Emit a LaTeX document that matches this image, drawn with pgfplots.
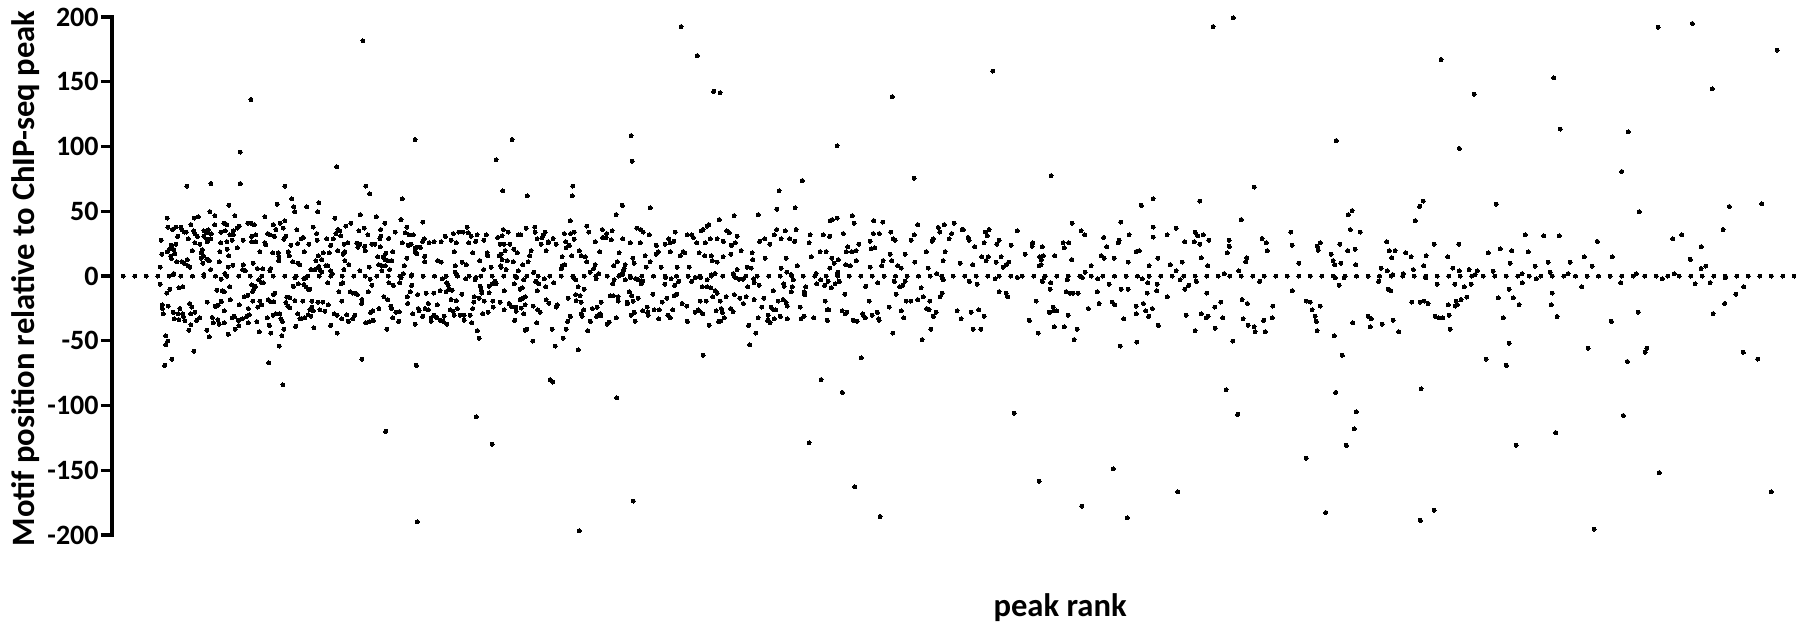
\documentclass[border=0pt]{standalone}
\usepackage{fontspec}
\setmainfont{Carlito}
\usepackage{pgfplots}
\pgfplotsset{compat=1.18}

\begin{document}
\begin{tikzpicture}
\begin{axis}[
    scale only axis,
    width=842pt, height=259pt,
    xmin=112, xmax=1796,
    ymin=-200, ymax=200,
    clip=false,
    axis x line=none,
    axis y line=left,
    axis line style={-, line width=1.7pt, line cap=rect},
    ytick={-200,-150,...,200},
    tick align=outside,
    major tick length=5.5pt,
    tick style={line width=1.7pt, black},
    /pgf/number format/assume math mode=true,
    yticklabel style={font=\fontsize{14}{16}\selectfont\bfseries, inner sep=1pt},
    every axis y label/.style={at={(axis description cs:-0.0463,0.495)}, rotate=90, anchor=base},
    label style={font=\fontsize{16.3}{18}\selectfont\bfseries},
    ylabel={Motif position relative to ChIP-seq peak},
    dot/.style={only marks, mark=*, mark size=1pt, black, mark options={draw=black, fill=black, line width=0pt}},
]
% zero line
\addplot[dot] coordinates {
(123.3,0)(134.8,0)(146.4,0)(157.9,0)(169.4,0)(180.9,0)(192.5,0)(204.0,0)(215.5,0)(227.0,0)(238.6,0)(250.1,0)(261.6,0)(273.1,0)(284.7,0)(296.2,0)(307.7,0)(319.2,0)(330.8,0)(342.3,0)(353.8,0)(365.3,0)(376.9,0)(388.4,0)(399.9,0)(411.4,0)(423.0,0)(434.5,0)(446.0,0)(457.5,0)(469.1,0)(480.6,0)(492.1,0)(503.6,0)(515.2,0)(526.7,0)(538.2,0)(549.7,0)(561.3,0)(572.8,0)(584.3,0)(595.8,0)(607.4,0)(618.9,0)(630.4,0)(641.9,0)(653.5,0)(665.0,0)(676.5,0)(688.0,0)(699.6,0)(711.1,0)(722.6,0)(734.1,0)(745.7,0)(757.2,0)(768.7,0)(780.2,0)(791.8,0)(803.3,0)(814.8,0)(826.3,0)(837.9,0)(849.4,0)(860.9,0)(872.4,0)(884.0,0)(895.5,0)(907.0,0)(918.5,0)(930.1,0)(941.6,0)(953.1,0)(964.6,0)(976.2,0)(987.7,0)(999.2,0)(1010.7,0)(1022.3,0)(1033.8,0)(1045.3,0)(1056.8,0)(1068.4,0)(1079.9,0)(1091.4,0)(1102.9,0)(1114.5,0)(1126.0,0)(1137.5,0)(1149.0,0)(1160.6,0)(1172.1,0)(1183.6,0)(1195.1,0)(1206.7,0)(1218.2,0)(1229.7,0)(1241.2,0)(1252.8,0)(1264.3,0)(1275.8,0)(1287.3,0)(1298.9,0)(1310.4,0)(1321.9,0)(1333.4,0)(1345.0,0)(1356.5,0)(1368.0,0)(1379.5,0)(1391.1,0)(1402.6,0)(1414.1,0)(1425.6,0)(1437.2,0)(1448.7,0)(1460.2,0)(1471.7,0)(1483.3,0)(1494.8,0)(1506.3,0)(1517.8,0)(1529.4,0)(1540.9,0)(1552.4,0)(1563.9,0)(1575.5,0)(1587.0,0)(1598.5,0)(1610.0,0)(1621.6,0)(1633.1,0)(1644.6,0)(1656.1,0)(1667.7,0)(1679.2,0)(1690.7,0)(1702.2,0)(1713.8,0)(1725.3,0)(1736.8,0)(1748.3,0)(1759.9,0)(1771.4,0)(1782.9,0)(1794.4,0)
};
% rank range up to 300
\addplot[dot] coordinates {
(251,136.3)(240.3,95.7)(187,69.5)(211,71.4)(240.3,71.4)(285,69.5)(291.7,59.6)(293.7,53.5)(294.7,49.7)(277.3,55.4)(229,54.6)(210,49.7)(215,46.6)(235,46.6)(265,45.8)(167.3,44.7)(194.3,44.7)(198.3,45.8)(285,42.5)(280.3,40.8)(273.3,39.7)(247.7,40.8)(254.3,39.7)(251,40.8)(239.3,38.6)(237.3,37)(224,40.8)(226.7,39.7)(214.7,39.4)(191,39.7)(168,37.8)(175.7,37.8)(181,37.8)(182,35.9)(172.3,35.9)(184.3,33.9)(193.7,34.8)(195,32.8)(186.3,33.9)(204,34.8)(208.3,35.6)(206.7,33.4)(211.3,32.6)(221,33.9)(225.3,34.8)(233.3,34.8)(230,31.7)(233.3,31.7)(276,35.9)(283.3,37)(297,35.6)(267.7,32.8)(270,31.7)(274.3,30.6)(286,30.6)(284,28.4)(177.7,30.6)(188.3,28.7)(197.3,30.6)(204,30.6)(206.7,28.4)(210.7,28.7)(161.3,27.6)(195,25.7)(200,24.6)(207.3,26.5)(220.7,25.7)(227,26.5)(232.3,27.6)(243.3,27.6)(251.7,26.5)(256,26.5)(255.7,31.7)(251.7,30.6)(265,25.7)(265.7,24.3)(291,23.7)(297.7,25.1)(171.3,23.7)(176,24.6)(170,21)(174,20.4)(192.3,19.6)(202.3,20.4)(201.3,17.9)(220,18.8)(227.3,20.7)(237.3,21.8)(260,18.8)(272.7,17.9)(278.3,17.9)(288.3,18.8)(289.3,15.7)(161.7,16.8)(167.3,18.8)(170.7,15.4)(171.3,13.5)(175,17.4)(203.3,15.7)(201.3,13.8)(206.7,13)(209.3,11.9)(228.7,15.7)(279,14.9)(278.7,11.9)(292.7,11)(297.7,9.9)(299.7,8.8)(176.7,11)(182,11)(187.3,12.7)(184.3,9.7)(188,8)(202.7,9.9)(219.3,11)(253.3,9.9)(270.7,5.8)(243.3,8.6)(232.7,8.3)(228.3,6.9)(190,6.9)(160.3,6.9)(210.7,5)(221.3,-2.5)(242.7,5)(245.3,3.9)(257.3,5.8)(262.7,5.5)(270,3.9)(225,1.9)(173.7,1.9)(204,1.1)(172.7,1)
(160.3,-6.3)(170,-10.2)(166.7,-13.2)(179,-9.1)(183,-8.3)(216.7,-11)(229.7,-8.3)(251.7,-6.9)(255.3,-8)(258.7,-3)(261.7,-5.2)(263.3,-5.2)(253.7,-10.2)(252.7,-11.9)(247.7,-14.9)(244.3,-16)(273.3,-14.3)(275,-13.2)(268.3,-18.2)(270.7,-19.9)(274,-19.9)(260,-19.3)(252.7,-19.3)(261.7,-22.3)(257.7,-24)(248.3,-25.1)(293.3,-8)(295,-1.1)(298.3,-6.1)(286.7,-16.3)(290,-16.8)(286,-20.4)(295,-19)(287.7,-23.2)(290,-24.6)(222.3,-11.3)(224.3,-12.1)(230.3,-18.2)(221.3,-19.6)(218.3,-22.6)(215.3,-23.4)(207.3,-20.1)(239.3,-22.3)(224.3,-27)(162.3,-22.3)(162.3,-25.1)(163.3,-29.2)(168.3,-23.2)(173.3,-28.1)(180,-25.1)(189.7,-21.2)(191.7,-24)(174.3,-33.1)(178.3,-29.2)(183,-29.2)(179,-33.7)(183.3,-31.2)(185,-34.5)(190.7,-29.2)(195,-27.9)(196.7,-34.2)(200,-32.3)(191,-37.8)(188.7,-41.9)(212.3,-32)(213.3,-36.1)(218,-33.7)(219.3,-37.2)(224.3,-36.1)(232.3,-32.3)(234.3,-31.2)(238.3,-34.2)(242.3,-33.1)(246.7,-31.2)(249.3,-30)(248.3,-36.1)(257,-35.3)(267.3,-32.3)(273.3,-30.3)(276,-29.2)(280,-29.2)(281,-33.1)(282.3,-35)(297.7,-29.2)(300,-33)(207,-41.9)(209.3,-46.9)(228.3,-45)(235.3,-41.1)(239,-38.3)(259.3,-43)(269.3,-38.1)(270.7,-44.1)(284,-41.1)(282,-46.1)(295.7,-38.9)(279.3,-54.1)(165.7,-46.1)(167.7,-50.2)(165.7,-53)(194,-58.2)(172,-64.3)(164.7,-69)(268.7,-67)(283,-84.1)
};
% 300 to 600
\addplot[dot] coordinates {
(363,181.5)(415,105.4)(512,105.4)(336.7,84.4)(496,89.7)(365.7,69.5)(369.7,63.4)(502.7,65.7)(527.3,61.8)(572.7,69.5)(572.3,61.8)(402.3,59.6)(306.7,53.5)(319,56.6)(317.7,49.7)(360.3,47.4)(376.3,45.8)(335,44.7)(401,43.6)(422.7,41.7)(570.3,42.8)(351,40.8)(384.7,40.8)(345.7,38.6)(313.3,37.8)(338,35.9)(340,34.8)(336,32.8)(340.7,30.9)(359,34.8)(364.3,37)(380.7,35.9)(395.3,33.9)(407,37.8)(405.3,33.4)(409,31.7)(413.3,31.7)(467,37.8)(458.7,33.9)(453.3,32.8)(463.3,33.9)(468.3,33.4)(471,30.6)(477,31.7)(486.3,31.7)(497.7,29.8)(502,30.9)(503.3,35.9)(508.3,33.9)(518.3,31.7)(520.7,31.7)(526,37)(534.7,37.8)(535,33.9)(545,33.9)(543.3,31.7)(537,28.7)(542,29.5)(553,29)(548.3,26.5)(556,24.6)(564.3,32.8)(574.3,33.9)(570.7,32.8)(586.7,38.6)(588.7,33.9)(316.7,32.8)(303.3,29.8)(301.3,28.7)(317.3,27.6)(326.7,28.7)(333.3,28.7)(309,24.6)(330.7,23.7)(344.3,24.6)(347.7,25.7)(356.7,25.4)(360,24.6)(364.7,22.9)(358,22.1)(365.3,19.6)(368,31.7)(371.7,24.6)(375,24.6)(380,28.7)(380.7,30.6)(380.3,22.6)(388.7,29)(392.7,18.8)(402.3,25.7)(408.3,23.7)(411,24.6)(415,21.5)(420.3,22.1)(417,22.1)(415,18.8)(416.7,17.1)(424.3,28.7)(422.7,26.8)(429,25.7)(434,26.5)(441,26.5)(445.3,30.6)(451.3,27.6)(456.3,25.7)(468.7,25.7)(475.7,26.8)(483.7,27.6)(500,24.6)(504,24.6)(509.7,24.6)(505,19.6)(513.7,20.7)(517.3,17.9)(531,19.6)(541,24.6)(546,19.6)(548.3,25.7)(565.7,26.5)(569.3,23.7)(566,21.8)(574.3,28.4)(579.3,19.6)(595.3,26.5)(599.7,18.8)
(304.3,18.8)(323.3,17.9)(329.3,17.9)(337.7,19.6)(345,18.8)(343.3,16.8)(318.3,15.7)(321.7,12.7)(316,11.6)(345,11.9)(349,8.8)(377.7,14.9)(386,17.7)(383.3,14.9)(385,12.7)(387.7,11.9)(391.7,11.9)(378.7,8.8)(382,8)(385.3,8)(369.3,6.9)(360,3.9)(382,3.9)(389.7,5)(404.3,8)(406.7,13.8)(424.7,11)(424.7,15.2)(437.7,11.9)(441.3,10.8)(454.3,18.8)(472.7,17.9)(487,17.9)(487.7,15.7)(479.7,11.9)(462,10.8)(466.3,8.8)(455.3,8)(483.7,5)(491,6.9)(501.3,16.8)(499,15.7)(502,12.7)(507.3,11.9)(513.3,11)(500.7,8)(501,6.9)(506,5)(522.7,8.6)(528,11)(529.7,15.7)(518.3,3.9)(533.7,2.8)(562,14.9)(564.7,8.8)(562.3,8)(561.3,5.5)(571.7,15.7)(581,15.7)(585.3,14.9)(586.7,11)(595,8.8)(593.7,5.8)(590,2.8)(598.7,1.9)(311,5)(315,5)(318.7,7.4)(320,5)(321.7,3)(326,8)(327.7,8)(330.7,3.9)(332.3,1.9)(344,5)(306,-1.1)(304,-1.9)(455.3,2.8)
(304,-6.6)(308.3,-10.2)(306,-8.3)(310,-10.2)(327.7,-5.2)(339,-12.1)(341.3,-6.1)(342.7,-5.2)(370.3,-2.5)(372,-7.2)(368.3,-12.1)(350.3,-12.1)(352.7,-13.2)(354.7,-13.2)(357.3,-14.3)(362,-18.2)(361.7,-21.2)(389,-5.2)(393.3,-7.2)(399.7,-5.2)(401,-1.1)(403.3,1.9)(411.7,.8)(411.7,-7.2)(410.3,-12.1)(407.3,-16)(407.7,-21.2)(384,-16)(387.7,-18.2)(312,-19.3)(302.7,-19.3)(318,-20.1)(322.7,-20.1)(328.3,-22.3)(341.7,-19.3)(417.7,-14.3)(426,-13.2)(433.7,-13.2)(440,-11.3)(446,-12.1)(448.7,-10.2)(452.3,-11)(442.3,-2.2)(446.7,-5.2)(448,-7.2)(456,1.9)(465.7,-2.2)(475,-3)(475.7,-1.1)(480.3,-8)(481.3,-11)(481.7,-13.2)(489,-13)(489,-8)(492,-6.1)(495,-4.1)(496,-6.1)(504.3,-11.3)(514.3,-6.1)(516.7,-1.1)(522.3,-9.1)(520.3,-10.2)(523.7,-3)(535.7,-4.1)(538.7,-6.1)(537.3,-11.3)(545.7,-8.3)(553.7,-5.2)(544.3,-2.2)(573.7,-1.1)(575.7,-3)(578,-8.3)(584.3,-10.2)(596,-2.2)(575.7,-14.3)(580,-15.2)(576,-19)(581,-20.1)(568.3,-17.1)(461.7,-14.1)(474.3,-16)(479.3,-17.1)(473.7,-20.1)(451,-18.2)(456.3,-19)(428.3,-21.2)(437.3,-22.3)(484.3,-19.3)(492.7,-19.3)(500,-20.1)(493.3,-24)(509,-21.2)(511.7,-23.7)(520,-18.2)(523.3,-17.1)(525.3,-16)(525,-22.3)(521.3,-24.8)(533.3,-23.2)(537.7,-26.2)(540,-27.9)(546,-18.5)(548.7,-21)(557.3,-22.3)(556.3,-24)(515.7,-24)(504,-26.2)(516,-27.3)(523.7,-29.2)(390.7,-23.2)(391.7,-25.1)(379,-25.1)(373,-27)(370.7,-28.1)(346.7,-30)(355,-30.3)(396,-28.1)(399.3,-27.6)(392.7,-32.3)(412.7,-29.2)(418.3,-25.1)(425,-25.1)(428.3,-26.2)(419,-27)(422.7,-31.2)(434.3,-30.3)(431,-32.3)(431,-35)(436.7,-32)(440,-34.2)(444,-31.2)(443.3,-35)(446.7,-37.2)(450,-26.2)(453,-27.3)(457.3,-25.1)(454.3,-30.3)(460,-30.3)(464,-30.3)(464,-34.2)(470.3,-30.3)(472.7,-25.1)(471.7,-36.1)(482.7,-29)(488,-28.1)(514.7,-34.2)(536.7,-36.1)(570.3,-31.2)(567.7,-35)(581,-29.2)(582,-31.2)(583.7,-26.2)(592.3,-25.1)(597,-24)(596.7,-31.2)(599,-30.3)(590.3,-35)(310,-25.9)(311.7,-24)(313.3,-27)(320,-26.2)(325,-27.3)(308.3,-30)(305,-32.3)(301.7,-32.8)(311,-30.9)(334.3,-29.2)(337.3,-30.3)(341.7,-33.1)(348.3,-35)(352.7,-33.1)(365.7,-36.1)(369.3,-35.3)(373.3,-34.2)(398.7,-35)(415.3,-37.2)(314,-40)(330.7,-38.1)(337.3,-44.1)(386.7,-41.1)(477.3,-42.2)(479,-48)(525.3,-41.9)(526.7,-41.1)(532.7,-50.2)(552.3,-41.1)(555.3,-54.1)(566.3,-41.1)(563.3,-48)(578.3,-57.1)(587.7,-42.2)(362,-64.3)(416.3,-69)(550,-80)(552.7,-81.9)(385.7,-120)(476.3,-108.7)(492.3,-129.9)(417.3,-189.8)(579.3,-196.7)
};
% 600 to 900
\addplot[dot] coordinates {
(681,192.6)(697.3,170.2)(713.7,142.6)(720,141.5)(892.3,138.5)(631,108.4)(837,100.4)(632.3,88.6)(802.3,73.7)(779,65.7)(622.3,54.6)(650.3,52.7)(776.7,51.6)(795,52.7)(616,47.4)(758.3,47.4)(734,46.6)(719.3,43.6)(852.3,46.6)(837.3,44.7)(832.3,43.6)(830.3,42.8)(873.7,42.8)(882.7,41.7)(854,40.8)(708.7,39.7)(707,38.6)(703,35.9)(701,34.8)(636.7,37)(640.7,35.9)(643.3,33.9)(649.3,31.7)(675.3,33.9)(687.3,31.7)(691.7,31.7)(693.3,29.8)(726.7,34.8)(729.3,33.4)(737,30.6)(776.7,35.9)(785.3,34.8)(796,35.9)(774.3,31.7)(810,31.7)(823.3,31.7)(829.7,30.6)(843.3,32.8)(873.3,32.8)(879.3,32.8)(890.7,33.9)(602.3,35.9)(612,34.8)(606.7,32.8)(602.7,29.8)(606,29.8)(611.3,27.9)(622.7,28.7)(630.3,25.7)(640.3,25.7)(656.3,23.7)(665.3,24.6)(668.7,28.7)(670,25.7)(673.7,26.8)(696.7,25.7)(705.3,25.7)(710.3,28.7)(717,28.7)(723.3,26.8)(735.3,25.7)(731.3,23.7)(759.7,26.8)(764.7,28.7)(769.7,24.6)(781,28.7)(789.7,28.7)(794.7,26.8)(809,25.7)(870,26.8)(893.3,28.7)(895,27.6)(847.7,22.6)(846.3,18.8)(851.7,18.8)(856,19.6)(858.7,24.6)(871,21)(874.7,21.8)(820,18.8)(826,18.8)(741,19.6)(699,17.9)(684.7,17.9)(683,18.8)(680.3,15.7)(658.3,18.8)(656.3,16.8)(670.3,18.8)(645,15.7)(619,17.9)(632.7,13.8)(704.7,15.7)(711.3,15.7)(723,14.9)(730.7,16.8)(752,17.9)(752.7,12.7)(765,13.8)(786,13.8)(811.3,14.9)(831.7,13.8)(838.3,12.7)(890.3,16.8)
(712.3,11.9)(717.3,10.8)(617.3,11)(634,9.9)(650,11)(625,8.8)(613.7,8)(646.3,6.9)(661,6.9)(677,6.9)(689.3,6.9)(747,6.9)(751.3,6.1)(737,5)(781,6.1)(797.3,8)(834,9.9)(845.7,8.8)(850.3,8)(856.3,11.9)(829.7,6.1)(870.3,6.9)(881.7,8)(883,11.9)(891.7,11.9)(897.7,8)(624,5.8)(623.3,3.9)(715,1.9)(711,.8)(733.3,1.9)(786.7,3)(791,1.1)(837.7,3)(816,1.9)(837.3,1.1)(620,0.8)(622.7,1.4)
(614,-3)(612.7,-6.1)(630.7,-1.1)(625.3,-3)(635.7,-1.9)(638.3,-3)(642.7,-4.1)(641.3,-6.1)(665.3,-1.1)(664.7,-6.3)(671,-2.2)(674.7,-7.2)(678.7,-4.1)(691.7,-4.1)(695.3,-1.1)(700.7,-1.1)(707,-3)(702.3,-8.3)(707.3,-8.3)(710.7,-9.1)(715,-11.3)(717,-13.2)(712.7,-16)(726,-16)(735.7,-1.4)(739,-2.5)(743,-2.5)(747.7,-8.3)(754,-5.2)(759,-7.2)(753.7,-2.2)(783.7,-6.1)(784,-8)(793.3,-3)(792.3,-8.3)(791.3,-12.1)(773.3,-11.3)(805.7,-8.3)(804.3,-12.1)(804.7,-14.6)(816.7,-6.1)(820.7,-3)(824.7,-7.2)(828,-4.1)(831.3,-9.1)(835,-6.1)(839.3,-4.1)(844.7,-14.1)(865.7,-8)(877.7,-5.2)(894.3,-4.1)(896,-14.1)(899.7,-8.3)
(652.7,-14.1)(676.7,-14.1)(674,-15.2)(629.3,-12.1)(631.7,-15.2)(638.3,-17.1)(610.3,-15.2)(613.3,-15.2)(618,-16)(618.3,-19.3)(627.3,-20.1)(627.3,-21.5)(633,-19.3)(601,-20.1)(666.7,-17.1)(662.3,-20.1)(682,-21.2)(686.7,-23.2)(700.3,-19.3)(706.3,-19.3)(720.3,-19.3)(734.3,-14.3)(739.7,-17.1)(746,-16)(743.3,-21.2)(754,-18.2)(763.7,-17.1)(778,-19.3)(783,-18.2)(786,-20.4)(787.3,-23.2)(761.7,-24)(771,-24)(800.3,-24)(825.3,-19.3)(869.3,-19.3)(889.3,-24)(647.3,-24)(654,-26.2)(659.3,-26.2)(672.7,-26.2)(642.7,-27)(647.7,-28.1)(648.3,-30.3)(634.3,-28.1)(631.3,-30.3)(600,-29.2)(600.7,-30.6)(667.7,-30.3)(670.3,-32.3)(658.7,-33.1)(635,-35)(616.3,-32.3)(609.3,-35.6)(607.3,-37.2)(695,-28.1)(698,-26.2)(699.3,-27)(702.7,-29.2)(716,-27)(721.3,-25.1)(722.3,-28.1)(730.7,-25.1)(733,-27.6)(724.3,-32.3)(718.7,-35)(720.7,-34.8)(687.3,-35)(709,-38.1)(748.7,-38.1)(758,-32.3)(755.7,-44.1)(749.7,-53.2)(768.3,-30.3)(767.7,-34.2)(770,-36.1)(773.7,-26.2)(775.7,-26.2)(774.3,-33.1)(780.3,-31.2)(787.3,-33.1)(801,-33.1)(804,-31.2)(813.7,-32.3)(827.3,-26.2)(828.7,-26.2)(827.3,-34.2)(842,-27)(846.7,-28.1)(845.3,-29.2)(853.3,-34.2)(857,-35)(862.7,-29.2)(863.3,-30.3)(865.3,-32.3)(872,-30.3)(877.3,-28.1)(878.7,-33.1)(879,-34.2)(892.7,-44.1)(703,-61.2)(861.3,-63.2)(821,-80)(842.3,-89.9)(616.7,-94.1)(809,-128.8)(854.7,-162.8)(633.3,-173.8)(880,-185.7)
};
% 900 to 1200
\addplot[dot] coordinates {
(992.7,158.3)(914,75.6)(1051,77.5)(1199.7,57.9)(1153,59.6)(1141.3,54.6)(1120.7,41.7)(1072,40.8)(917.7,39.7)(944.3,39.7)(954.3,40.8)(938.3,37.5)(939.7,33.9)(1153.3,37.8)(1176,37)(1081,34.8)(1084.7,31.7)(1195,33.9)(1197.7,30.9)(962,35.9)(963.3,35.9)(989,35.9)(985.3,33.9)(987,30.9)(1017.3,34.8)(914.3,31.7)(951.7,32.8)(1129,31.7)(1167,31.7)(1153.3,30.1)(1103.7,29.8)(949,28.7)(911.3,27.6)(933.3,28.7)(932,26.8)(968,29.8)(969,27.6)(999,27.6)(984,25.7)(996.7,24.6)(1011,23.7)(1032.7,25.7)(1032,22.9)(1042.3,22.6)(1063,25.7)(1068.7,25.7)(1064.3,21.8)(1106.7,22.6)(1119,27.6)(1118.3,25.7)(1184.7,26.5)(1194.3,26.5)(1199.7,24.6)(974.7,22.6)(926.3,18.8)(945,18.8)(905,16.8)(1025.3,16.8)(1054.7,15.7)(1136,18.8)(1139.3,19.6)(1101,15.7)(1104,13.8)(1114.3,13.8)(1157.7,13.8)(981.7,14.9)(988.3,14.9)(1001,14.9)(1039.7,14.9)(1043.3,15.7)(1041.3,12.7)(1071.7,12.7)(943,11.9)(986,11.9)(996,10.8)(914.7,10.8)(1008.7,10.8)(1006.3,8.8)(1003,6.9)(960.3,9.9)(972.7,8.8)(1041,8.8)(1039.3,8)(1091,8)(1128.3,10.8)(1149,8)(1182.3,10.8)(1170.3,8.8)(1176,3.9)(901.3,6.1)(928.3,6.1)(936.7,1.9)(1085,3)
(943.3,-3)(942,-1.1)(995,-2.2)(969.3,-4.1)(977.3,-6.3)(905,-4.1)(902.7,-7.2)(1017.3,-1.1)(1044,-1.1)(1042.3,-4.1)(1050.7,-5.2)(1067.3,-3)(1082.3,-1.1)(1097.7,-2.2)(1109,-6.3)(1142.3,-2.2)(1147.7,-5.2)(1157.3,-6.3)(1156.7,-11.3)(1180,-3)(1196.3,-4.1)(1188.7,-7.2)(1184.7,-10.2)(921,-9.1)(1050,-10.2)(1121.3,-10.2)(1128,-10.2)(999,-12.1)(1006,-13.2)(1007.7,-16)(1066,-12.1)(1070,-13.2)(1073,-13.2)(1078,-13.2)(1097.3,-12.1)(1147.3,-13.2)(942.3,-13.2)(940,-16)(923.3,-16)(917.7,-18.2)(906.3,-19.3)(910.7,-19.3)(929.7,-19.3)(1036,-19.3)(1167.3,-16)(1099,-21.2)(1112.3,-20.1)(1114.7,-22.3)(1136,-23.2)(1143.3,-21.2)(1152.3,-25.1)(1088.3,-25.1)(926.7,-25.1)(929,-26.2)(1053.3,-24)(901.3,-27)(957,-27)(978.7,-26.2)(971,-28.1)(1049.3,-28.1)(1053.7,-27)(1056.7,-27)(936,-28.1)(1145.7,-27)(1136.3,-29.2)(933.3,-31.2)(984,-31.2)(1068.3,-30.3)(1148.7,-31.2)(1186.3,-30.3)(903.7,-32.3)(961,-33.1)(1029.3,-34.2)(1123.7,-33.1)(1158.3,-38.1)(1054.3,-39.2)(1064.3,-39.2)(930.7,-41.1)(973.3,-41.1)(980.7,-41.1)(1077.3,-41.1)(1195,-42.2)(1038.3,-44.1)(922,-49.1)(1074,-49.1)(1136.7,-51)(1120.3,-54.1)(1014.3,-105.9)(1113.3,-149)(1039,-158.6)(1177.7,-166.6)(1081.7,-177.7)(1127.3,-186.8)
};
% 1200 to 1480
\addplot[dot] coordinates {
(1213,192.6)(1233.3,199.4)(1441,167.2)(1474.3,140.4)(1336.3,104.6)(1459.3,98.5)(1254.3,68.7)(1423.3,57.9)(1419.7,53.8)(1415.3,42.8)(1352,50.5)(1348.3,47.4)(1241.3,43.6)(1350.3,35.9)(1360.3,33.9)(1290.7,33.9)(1203.3,31.7)(1208.7,27.6)(1229,27.6)(1229.3,22.9)(1262,29)(1266.3,25.7)(1267.3,19.6)(1292,23.7)(1317.3,22.9)(1320.3,25.7)(1318.3,19.9)(1339.7,24.6)(1347.7,19.6)(1355,20.7)(1386.7,26.5)(1389.3,19.6)(1395,19.6)(1405.7,17.9)(1411,14.9)(1426,15.7)(1434.3,24.6)(1458.7,24.6)(1447.7,14.9)(1227.3,17.9)(1246.7,14.1)(1245.7,11)(1201.3,14.1)(1207.7,8)(1298.7,9.9)(1331,16.8)(1333,11.9)(1334.7,8.8)(1340.7,9.9)(1355.7,8.8)(1391.7,14.1)(1381,6.1)(1387.3,3.9)(1413.3,5)(1423.7,8)(1452.7,6.1)(1459.3,3.9)(1469,5)(1477.3,3.9)(1224.3,1.9)(1238.7,3.9)(1403.3,1.9)(1392.7,1.1)(1475,1.1)
(1259.7,-4.1)(1335.3,-1.4)(1344,-1.4)(1378.7,-4.1)(1425.7,-1.4)(1339,-7.2)(1437.3,-6.3)(1454.7,-6.3)(1464.3,-8.3)(1471.3,-6.3)(1292.3,-11.3)(1388,-10.2)(1390.7,-11.3)(1206.7,-13.2)(1466.7,-16.3)(1461,-18.2)(1242,-18.2)(1456,-19.3)(1306,-19.3)(1310.3,-20.1)(1220.7,-20.1)(1247.3,-21.2)(1411.7,-20.1)(1420,-20.1)(1424,-19.3)(1428,-21.2)(1448.3,-22.3)(1457.3,-22.3)(1455.3,-23.2)(1214.7,-24)(1272.7,-23.2)(1320.3,-23.2)(1312,-26.2)(1201.3,-29.2)(1315,-31.2)(1208,-31.2)(1206,-32.3)(1222.7,-32.3)(1243,-33.1)(1263.7,-34.2)(1272.3,-32.3)(1316.3,-35)(1368,-31.2)(1371.3,-33.1)(1393,-34.2)(1435,-31.2)(1438.7,-32.3)(1442.7,-32.3)(1449.3,-30.3)(1352.7,-36.1)(1248,-38.1)(1254,-39.2)(1370.3,-39.2)(1382.3,-37.2)(1215.3,-40.3)(1450.3,-41.1)(1255,-43)(1265.3,-43)(1317,-42.2)(1398.7,-43)(1334.3,-46.1)(1232.7,-50.2)(1342.3,-61.2)(1226,-87.9)(1421,-87.2)(1335.7,-89.9)(1237.7,-106.8)(1356.3,-104.8)(1354.3,-118)(1346.3,-130.8)(1306.3,-140.7)(1325.7,-182.6)(1434,-181)(1420.3,-188.7)
};
% 1480 to the end
\addplot[dot] coordinates {
(1658,192)(1692.3,195)(1777,174.5)(1553.7,153)(1712.3,144.5)(1560.3,113.5)(1628.3,111.3)(1621.7,80.7)(1496.3,55.5)(1639.3,49.7)(1729.3,53.7)(1761.7,55.8)(1723,35.9)(1525.3,31.9)(1543.7,31)(1559.3,31)(1672.7,28.8)(1681.7,31.9)(1597.3,26.7)(1701.3,22.7)(1488.3,17.8)(1500.3,20.9)(1511.7,19.6)(1528.3,18.7)(1584.3,14.7)(1612.3,14.7)(1690.3,12.9)(1510,9.8)(1548,10.7)(1570,10.7)(1535,7.7)(1592,7.7)(1701,5.8)(1705.7,7.7)(1493,3.7)(1522,1.8)(1550,2.8)(1568,1.8)(1636.3,1.8)(1674.3,1.8)
(1536.3,-2.1)(1522.3,-5.2)(1662.3,-2.1)(1620.7,-5.2)(1695,-6.1)(1710,-5.2)(1725.3,-1.2)(1509,-10.1)(1581.7,-8.3)(1743.7,-8.3)(1552.3,-13.2)(1498.3,-16.9)(1513.3,-16.9)(1735.7,-14.1)(1519,-22.1)(1551.3,-22.1)(1724.7,-21.2)(1713,-29.1)(1638.3,-27.9)(1503.3,-32.2)(1557,-31.3)(1611.3,-35)(1509,-51.8)(1588,-55.8)(1646.7,-55.8)(1645,-58.9)(1743.3,-58.9)(1486,-64.1)(1506.3,-69)(1627.3,-66)(1757.7,-64.1)(1623.3,-107.7)(1555.7,-120.9)(1516,-130.7)(1659.3,-151.8)(1771.3,-166.6)(1594,-195.4)
};
\node[anchor=base, font=\fontsize{16.3}{18}\selectfont\bfseries] at (rel axis cs:0.563,-0.1576) {peak rank};
\end{axis}
\pgfresetboundingbox
\path[use as bounding box] (-56pt,-44pt) rectangle (842pt,267.5pt);
\end{tikzpicture}
\end{document}
